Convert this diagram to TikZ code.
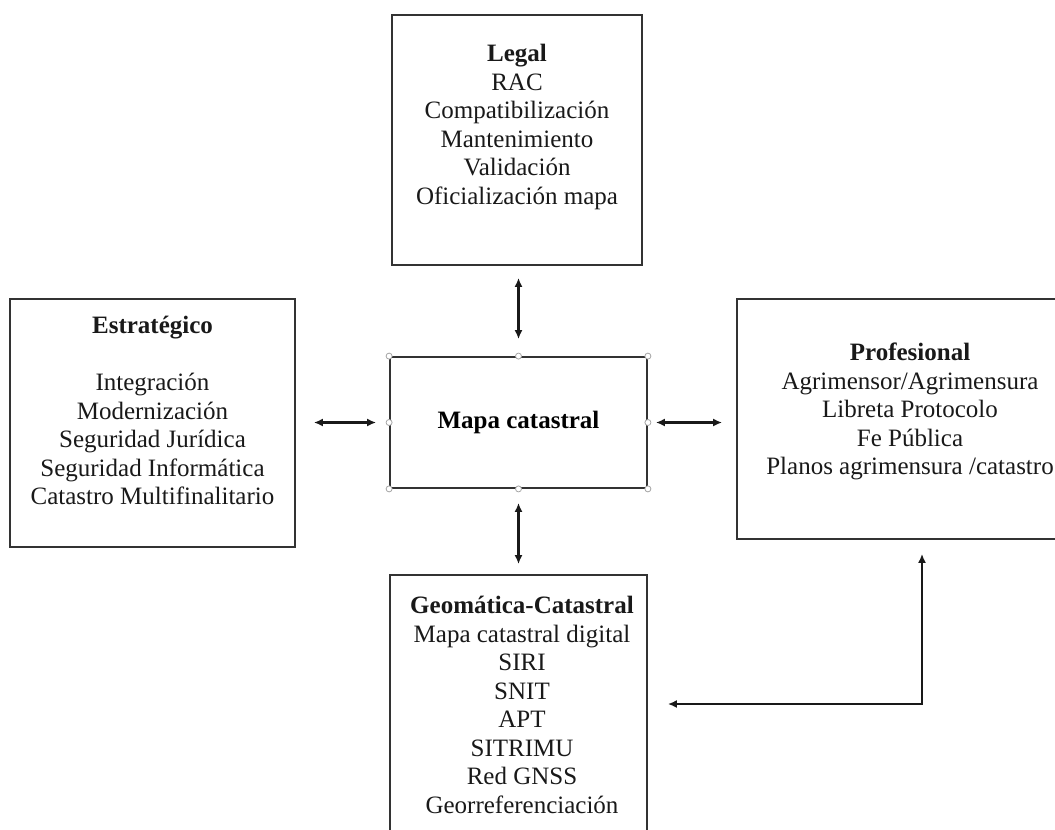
\documentclass[tikz,border=0pt]{standalone}
\usepackage{fontspec}
\setmainfont{Liberation Serif}
\usetikzlibrary{arrows.meta,calc}
\begin{document}
\begin{tikzpicture}[x=1pt,y=-1pt,
  box/.style={draw=black!80, line width=1.8pt, inner sep=0pt},
  txt/.style={align=center, font=\fontsize{25}{28.5}\selectfont, inner sep=0pt, text=black!90},
  conn/.style={line width=2.2pt, draw=black!90, {Latex[length=9pt,width=8pt]}-{Latex[length=9pt,width=8pt]}},
  handle/.style={circle, draw=black!35, fill=white, line width=0.8pt, minimum size=6pt, inner sep=0pt}]
\useasboundingbox[fill=white] (0,0) rectangle (1055,830);
\clip (0,0) rectangle (1055,830);

% boxes
\node[box, minimum width=250pt, minimum height=250pt] (legal) at (517,140) {};
\node[box, minimum width=285pt, minimum height=248pt] (estr) at (152.5,423) {};
\node[box, minimum width=257pt, minimum height=131pt, font=\fontsize{25}{28.5}\selectfont\bfseries] (mapa) at (518.5,422.5) {Mapa catastral};
\node[box, minimum width=346pt, minimum height=240pt] (prof) at (910,419) {};
\node[box, minimum width=257pt, minimum height=270pt] (geo) at (518.5,710) {};

% texts
\node[txt, anchor=north] (legalt) at (517,44) {\textbf{Legal}\\RAC\\Compatibilización\\Mantenimiento\\Validación\\Oficialización mapa};
\node[txt, anchor=north] (estrt) at (152.5,316) {\textbf{Estratégico}\\[28.5pt]Integración\\Modernización\\Seguridad Jurídica\\Seguridad Informática\\Catastro Multifinalitario};
\node[txt, anchor=north] (proft) at (910,343) {\textbf{Profesional}\\Agrimensor/Agrimensura\\Libreta Protocolo\\Fe Pública\\Planos agrimensura /catastro};
\node[txt, anchor=north] (geot) at (522,596) {\textbf{Geomática-Catastral}\\Mapa catastral digital\\SIRI\\SNIT\\APT\\SITRIMU\\Red GNSS\\Georreferenciación};

% selection handles on the central box
\foreach \a in {north,south,east,west,north east,north west,south east,south west}
  \node[handle] at (mapa.\a) {};

% connectors
\draw[conn, shorten <=12pt, shorten >=17pt] (legal.south -| mapa.north) -- (mapa.north);
\draw[conn, shorten <=14pt, shorten >=10pt] (mapa.south) -- (geo.north);
\draw[conn, shorten <=18pt, shorten >=13pt] (mapa.west -| estr.east) -- (mapa.west);
\draw[conn, shorten <=8pt, shorten >=14pt] (mapa.east) -- (mapa.east -| prof.west);
\coordinate (corner) at (922,704);
\draw[conn] ($(geo.east |- corner)+(20,0)$) -- (corner) -- ($(prof.south -| corner)+(0,14)$);
\end{tikzpicture}
\end{document}
